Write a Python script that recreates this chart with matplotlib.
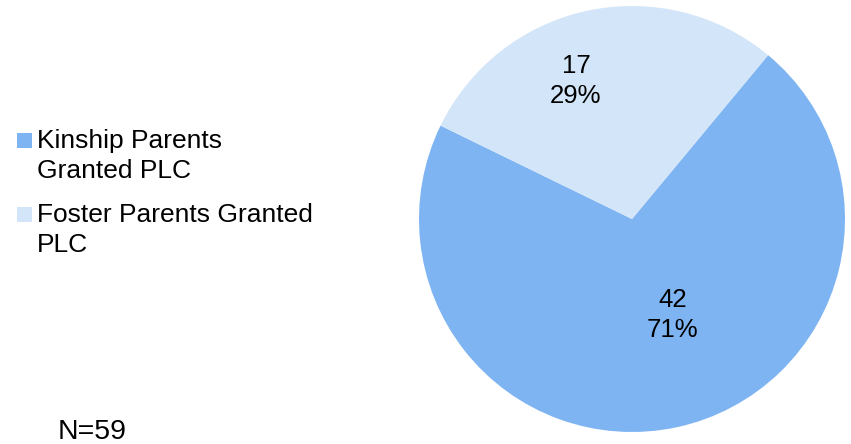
import matplotlib
matplotlib.use("Agg")
import matplotlib.pyplot as plt
from matplotlib.patches import Rectangle

plt.rcParams['font.family'] = ['Liberation Sans', 'DejaVu Sans']

categories = ["Kinship Parents Granted PLC", "Foster Parents Granted PLC"]
legend_lines = [["Kinship Parents", "Granted PLC"], ["Foster Parents Granted", "PLC"]]
values = [42, 17]
colors = ["#7EB4F2", "#D3E5F8"]
note = "N=59"

W, H = 851, 444
fig = plt.figure(figsize=(W / 100, H / 100), dpi=100)

cx, cy, r = 632, 219, 213
ax = fig.add_axes([(cx - r) / W, (H - cy - r) / H, 2 * r / W, 2 * r / H])
total = sum(values)
start = 154.0
wedges, _ = ax.pie(values, colors=colors, startangle=start, counterclock=True,
                   radius=1.0, wedgeprops=dict(linewidth=0))
ax.set_xlim(-1, 1)
ax.set_ylim(-1, 1)
ax.set_aspect('equal')
ax.axis('off')

label_pos = [(0.192, -0.451), (-0.263, 0.648)]
for v, (lx, ly) in zip(values, label_pos):
    pct = round(100 * v / total)
    ax.text(lx, ly, f"{v}\n{pct}%", ha='center', va='center', fontsize=18.5,
            linespacing=1.3, color='black')

# legend
sq = 15
leg_top = [133, 207]
base1 = [148, 222]
for i, (col, lines) in enumerate(zip(colors, legend_lines)):
    fig.patches.append(Rectangle((17 / W, 1 - (leg_top[i] + sq) / H), sq / W, sq / H,
                                 transform=fig.transFigure, facecolor=col, edgecolor='none'))
    for j, line in enumerate(lines):
        fig.text(37 / W, 1 - (base1[i] + 30 * j) / H, line, ha='left', va='baseline',
                 fontsize=19, color='black')

fig.text(58 / W, 1 - 439 / H, note, ha='left', va='baseline', fontsize=20.5, color='black')

fig.savefig("out.png", dpi=100, facecolor='white')
